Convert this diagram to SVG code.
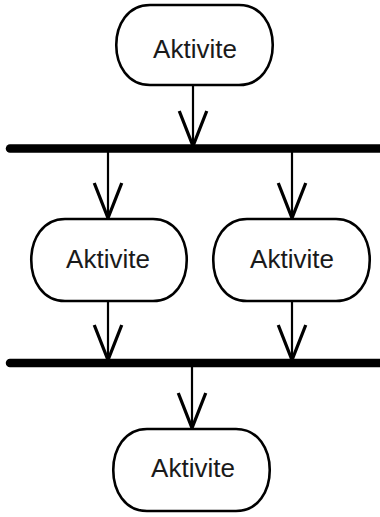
<svg xmlns="http://www.w3.org/2000/svg" width="380" height="517" viewBox="0 0 380 517">
  <style>
    .act path { fill: #fff; stroke: #000; stroke-width: 2.6; }
    .act text { font-family: "Liberation Sans", Arial, sans-serif; font-size: 26px; fill: #1a1a1a; text-anchor: middle; }
    .flow { stroke: #000; stroke-width: 2.2; fill: none; marker-end: url(#open); }
    .bar { stroke: #000; stroke-width: 8.5; stroke-linecap: round; }
  </style>
  <defs>
    <!-- open V arrowhead -->
    <marker id="open" markerUnits="userSpaceOnUse" markerWidth="40" markerHeight="40" viewBox="-30 -15 32 30" refX="0" refY="0" orient="auto" overflow="visible">
      <path d="M -28 -11 L 0 0 L -28 11" fill="none" stroke="#000" stroke-width="2.6"/>
    </marker>
  </defs>

  <!-- fork / join bars -->
  <g id="fork">
    <line class="bar" x1="10" y1="148.5" x2="384" y2="148.5"/>
  </g>
  <g id="join">
    <line class="bar" x1="10" y1="363" x2="384" y2="363"/>
  </g>

  <!-- connectors -->
  <g id="connectors">
    <line class="flow" x1="193" y1="85" x2="193" y2="146"/>
    <line class="flow" x1="108" y1="152" x2="108" y2="218"/>
    <line class="flow" x1="292" y1="152" x2="292" y2="218"/>
    <line class="flow" x1="108" y1="301" x2="108" y2="360"/>
    <line class="flow" x1="292" y1="301" x2="292" y2="360"/>
    <line class="flow" x1="192" y1="366" x2="192" y2="428"/>
  </g>

  <!-- activities: straight top/bottom, bulging rounded sides -->
  <g id="act-top" class="act">
    <path d="M 150 5 H 239 C 284 5 284 85 239 85 H 150 C 105 85 105 5 150 5 Z"/>
    <text x="195" y="58">Aktivite</text>
  </g>
  <g id="act-left" class="act">
    <path d="M 65 219 H 153 C 198 219 198 301 153 301 H 65 C 20 301 20 219 65 219 Z"/>
    <text x="108" y="268">Aktivite</text>
  </g>
  <g id="act-right" class="act">
    <path d="M 247 219 H 336 C 381 219 381 301 336 301 H 247 C 202 301 202 219 247 219 Z"/>
    <text x="292" y="268">Aktivite</text>
  </g>
  <g id="act-bottom" class="act">
    <path d="M 147 429 H 236 C 281 429 281 511 236 511 H 147 C 102 511 102 429 147 429 Z"/>
    <text x="193" y="477">Aktivite</text>
  </g>
</svg>
